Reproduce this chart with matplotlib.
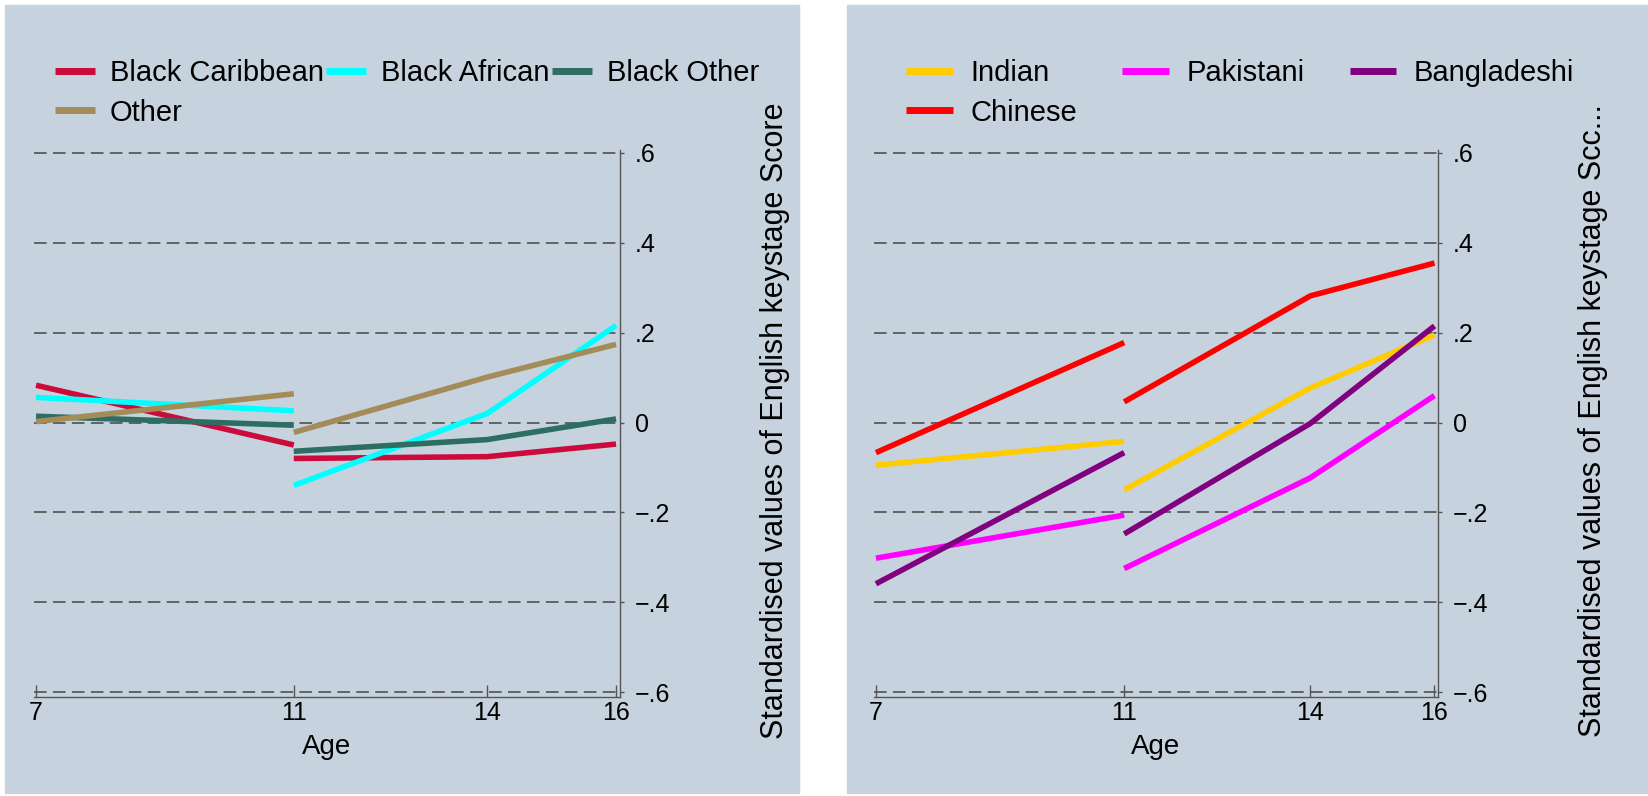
import numpy as np
import matplotlib
matplotlib.use("Agg")
import matplotlib.pyplot as plt
from matplotlib.patches import Rectangle

plt.rcParams['font.family'] = ['Liberation Sans', 'DejaVu Sans']

# ages: first segment (7 -> 11), second segment (11 -> 14 -> 16)
ages_a = [7, 11]
ages_b = [11, 14, 16]
xticks = [7, 11, 14, 16]
yticks = [-0.6, -0.4, -0.2, 0, 0.2, 0.4, 0.6]
ytick_labels = ["\u2212.6", "\u2212.4", "\u2212.2", "0", ".2", ".4", ".6"]

# left panel
left_names = ["Black Caribbean", "Black African", "Black Other", "Other"]
left_colors = ["#cc0a3c", "#00ffff", "#2e6e62", "#a38c58"]
black_caribbean_a = [0.083, -0.050]
black_caribbean_b = [-0.080, -0.076, -0.048]
black_african_a = [0.056, 0.026]
black_african_b = [-0.140, 0.020, 0.216]
black_other_a = [0.014, -0.006]
black_other_b = [-0.064, -0.038, 0.008]
other_a = [0.002, 0.064]
other_b = [-0.022, 0.101, 0.174]

# right panel
right_names = ["Indian", "Pakistani", "Bangladeshi", "Chinese"]
right_colors = ["#ffcc00", "#ff00ff", "#800080", "#ff0000"]
indian_a = [-0.095, -0.042]
indian_b = [-0.150, 0.077, 0.195]
pakistani_a = [-0.302, -0.206]
pakistani_b = [-0.325, -0.123, 0.060]
bangladeshi_a = [-0.359, -0.067]
bangladeshi_b = [-0.248, -0.002, 0.215]
chinese_a = [-0.067, 0.178]
chinese_b = [0.046, 0.282, 0.355]

left_a = [black_caribbean_a, black_african_a, black_other_a, other_a]
left_b = [black_caribbean_b, black_african_b, black_other_b, other_b]
right_a = [indian_a, pakistani_a, bangladeshi_a, chinese_a]
right_b = [indian_b, pakistani_b, bangladeshi_b, chinese_b]

W, H = 1649, 796
bg = "#c6d3df"
grid_col = "#5a5a5a"

fig = plt.figure(figsize=(W / 100, H / 100), dpi=100)
fig.patch.set_facecolor("white")

# panel backgrounds (below the axes)
fig.patches.append(Rectangle((5 / W, 1 - 793 / H), 794 / W, 788 / H,
                             transform=fig.transFigure, color=bg, zorder=-10))
fig.patches.append(Rectangle((847 / W, 1 - 793 / H), (W - 847) / W, 788 / H,
                             transform=fig.transFigure, color=bg, zorder=-10))


def px_axes(x0, x1, y_top, y_bot):
    return fig.add_axes([x0 / W, 1 - y_bot / H, (x1 - x0) / W, (y_bot - y_top) / H])


def draw_panel(ax, names, colors, seg_a, seg_b, xlim, leg_anchor, hlen, htpad, colsp, ylabel, ylab_x):
    ax.set_facecolor("none")
    for y in yticks:
        ax.axhline(y, color=grid_col, lw=1.3, ls=(0, (7, 3.5)), zorder=1)
    handles = []
    for name, col, ya, yb in zip(names, colors, seg_a, seg_b):
        h, = ax.plot(ages_a, ya, color=col, lw=4, label=name, zorder=3, solid_capstyle="butt")
        ax.plot(ages_b, yb, color=col, lw=4, zorder=3, solid_capstyle="butt")
        handles.append(h)
    ax.set_xlim(*xlim)
    ax.set_ylim(-0.611, 0.606)
    ax.spines["left"].set_visible(False)
    ax.spines["top"].set_visible(False)
    for s in ("right", "bottom"):
        ax.spines[s].set_color("#555555")
        ax.spines[s].set_linewidth(1.0)
    ax.yaxis.tick_right()
    ax.set_yticks(yticks)
    ax.set_yticklabels(ytick_labels, fontsize=18)
    ax.set_xticks(xticks)
    ax.set_xticklabels([str(v) for v in xticks], fontsize=18)
    ax.tick_params(axis="x", direction="in", length=9, width=1, color="#555555", pad=3)
    ax.tick_params(axis="y", direction="out", length=3, width=1, color="#555555", pad=8)
    ax.set_xlabel("Age", fontsize=20, labelpad=6)
    # legend filled row by row: first three on top, fourth below the first
    order = [0, 3, 1, 2]
    leg = ax.legend([handles[i] for i in order], [names[i] for i in order],
                    loc="upper left", bbox_to_anchor=leg_anchor, bbox_transform=fig.transFigure,
                    ncol=3, frameon=False, fontsize=21, handlelength=hlen, handletextpad=htpad,
                    columnspacing=colsp, borderpad=0, borderaxespad=0, labelspacing=0.4)
    for ln in leg.get_lines():
        ln.set_linewidth(5)
    fig.text(ylab_x / W, 1 - 421 / H, ylabel, rotation=90, ha="center", va="center", fontsize=22)


ax1 = px_axes(34.1, 619.9, 150.3, 697)
draw_panel(ax1, left_names, left_colors, left_a, left_b, (6.97, 16.06),
           (55 / W, 1 - 59 / H), 1.37, 0.5, 0.1,
           "Standardised values of English keystage Score", 775)

ax2 = px_axes(874.1, 1437.6, 150.3, 697)
draw_panel(ax2, right_names, right_colors, right_a, right_b, (6.97, 16.05),
           (906 / W, 1 - 59 / H), 1.6, 0.6, 1.55,
           "Standardised values of English keystage Scc...", 1593)

fig.savefig("out.png", dpi=100, facecolor=fig.get_facecolor())
